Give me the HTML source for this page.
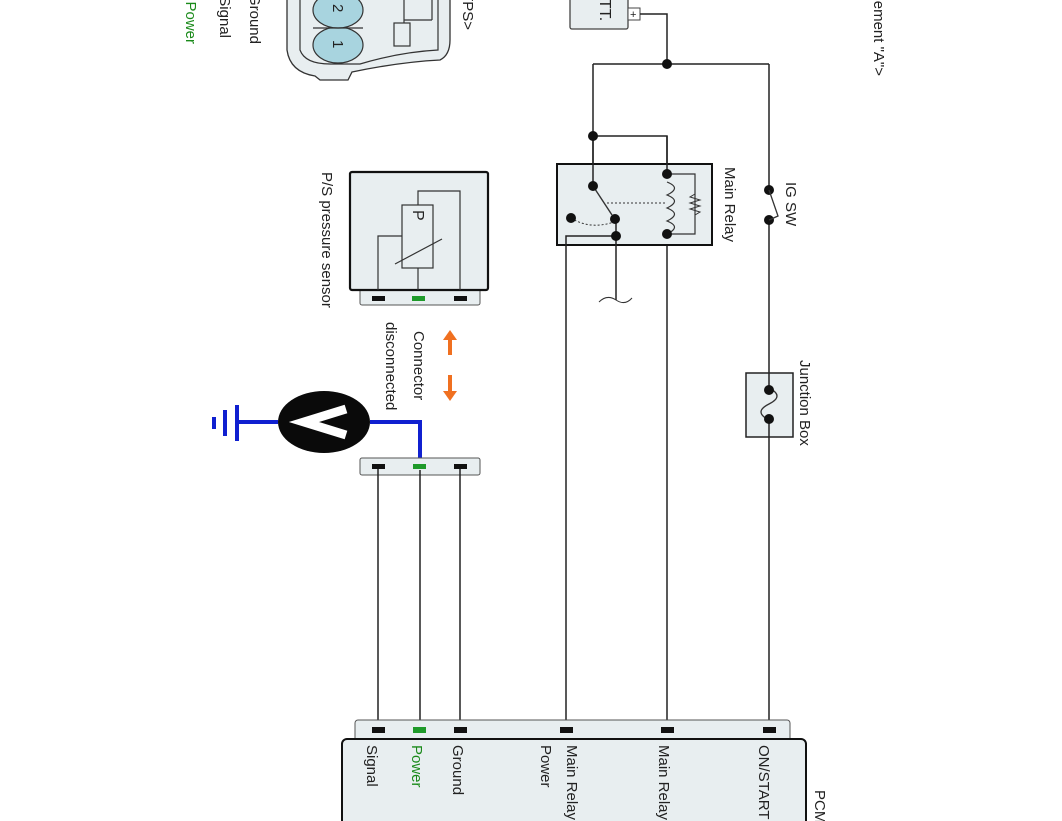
<!DOCTYPE html>
<html><head><meta charset="utf-8"><style>
html,body{margin:0;padding:0;background:#fff;}
svg{display:block;}
text{font-family:"Liberation Sans",sans-serif;fill:#222;}
</style></head><body>
<svg width="1062" height="821" viewBox="0 0 1062 821" xmlns="http://www.w3.org/2000/svg">
<!-- TPS connector top-left -->
<path d="M287,-5 L287,50 Q290,72 315,76 L320,80 L348,80 L352,72 Q400,62 440,60 Q450,55 450,40 L450,-5" fill="#e8eef0" stroke="#333" stroke-width="1.3"/>
<path d="M300,-5 L300,50 Q305,64 330,64 L360,64 Q400,52 438,50 L438,-5" fill="none" stroke="#333" stroke-width="1.2"/>
<rect x="394" y="23" width="16" height="23" fill="none" stroke="#333" stroke-width="1.2"/>
<path d="M404,23 L404,-5 M432,20 L432,-5 M404,20 L432,20" fill="none" stroke="#333" stroke-width="1.2"/>
<ellipse cx="338" cy="45" rx="25" ry="18" fill="#a8d4df" stroke="#333" stroke-width="1.2"/>
<ellipse cx="338" cy="10" rx="25" ry="18" fill="#a8d4df" stroke="#333" stroke-width="1.2"/>
<line x1="313" y1="28" x2="363" y2="28" stroke="#333" stroke-width="1.2"/>
<text transform="translate(333,40) rotate(90)" font-size="15">1</text>
<text transform="translate(333,4) rotate(90)" font-size="15">2</text>
<text transform="translate(250,44) rotate(90)" font-size="15" text-anchor="end">Ground</text>
<text transform="translate(220,38) rotate(90)" font-size="15" text-anchor="end">Signal</text>
<text transform="translate(186,44) rotate(90)" font-size="15" text-anchor="end" style="fill:#1a8a1a">Power</text>
<text transform="translate(463,30) rotate(90)" font-size="15" text-anchor="end">&lt;TPS&gt;</text>
<text transform="translate(874,76) rotate(90)" font-size="15" text-anchor="end">Arrangement "A"&gt;</text>

<!-- P/S pressure sensor -->
<rect x="360" y="288" width="120" height="17" rx="2" fill="#e8eef0" stroke="#555" stroke-width="1"/>
<rect x="350" y="172" width="138" height="118" rx="2" fill="#e8eef0" stroke="#111" stroke-width="2.2"/>
<rect x="402" y="205" width="31" height="63" fill="#e8eef0" stroke="#333" stroke-width="1.2"/>
<path d="M378,290 L378,236 L402,236 M418,268 L418,290 M460,290 L460,191 L418,191 L418,205" fill="none" stroke="#333" stroke-width="1.2"/>
<line x1="395" y1="264" x2="442" y2="239" stroke="#333" stroke-width="1.2"/>
<text transform="translate(413,210) rotate(90)" font-size="16">P</text>
<rect x="372" y="296" width="13" height="5" fill="#111"/>
<rect x="412" y="296" width="13" height="5" fill="#1f9a2a"/>
<rect x="454" y="296" width="13" height="5" fill="#111"/>
<text transform="translate(322,172) rotate(90)" font-size="15">P/S pressure sensor</text>

<!-- orange arrows -->
<path d="M450,355 L450,338" stroke="#f07020" stroke-width="4"/>
<path d="M443,340 L450,330 L457,340 Z" fill="#f07020"/>
<path d="M450,375 L450,393" stroke="#f07020" stroke-width="4"/>
<path d="M443,391 L450,401 L457,391 Z" fill="#f07020"/>
<text transform="translate(414,331) rotate(90)" font-size="15">Connector</text>
<text transform="translate(386,322) rotate(90)" font-size="15">disconnected</text>

<!-- voltmeter -->
<path d="M370,422 L420,422 L420,466" fill="none" stroke="#1020d0" stroke-width="4"/>
<path d="M278,422 L237,422" stroke="#1020d0" stroke-width="4"/>
<path d="M237,405 L237,441 M225,410 L225,436 M214,417 L214,429" stroke="#1020d0" stroke-width="4"/>
<ellipse cx="324" cy="422" rx="46" ry="31" fill="#0a0a0a"/>
<path d="M346,409 L304,422 L346,435" fill="none" stroke="#fff" stroke-width="9"/>

<!-- middle connector -->
<rect x="360" y="458" width="120" height="17" rx="2" fill="#e8eef0" stroke="#555" stroke-width="1"/>
<path d="M378,466 L378,730 M420,470 L420,730 M460,466 L460,730" stroke="#222" stroke-width="1.5"/>
<rect x="372" y="464" width="13" height="5" fill="#111"/>
<rect x="413" y="464" width="13" height="5" fill="#1f9a2a"/>
<rect x="454" y="464" width="13" height="5" fill="#111"/>

<!-- BATT -->
<rect x="570" y="-10" width="58" height="39" rx="2" fill="#e8eef0" stroke="#444" stroke-width="1.3"/>
<text transform="translate(600,0) rotate(90)" font-size="16" text-anchor="middle">BATT.</text>
<rect x="628" y="8" width="12" height="12" fill="#fff" stroke="#444" stroke-width="1"/>
<text x="630" y="18" font-size="11">+</text>
<path d="M640,14 L667,14 L667,64 M593,64 L769,64 M593,64 L593,186 M593,136 L667,136 L667,174 M769,64 L769,188 M769,220 L769,730 M667,234 L667,730" fill="none" stroke="#222" stroke-width="1.5"/>

<!-- relay -->
<rect x="557" y="164" width="155" height="81" fill="#e8eef0" stroke="#111" stroke-width="2"/>
<path d="M593,136 L593,186 M667,136 L667,174" stroke="#222" stroke-width="1.5"/>
<path d="M667,174 L695,174 L695,234 L667,234" fill="none" stroke="#333" stroke-width="1.2"/>
<path d="M667,182 Q682,188 667,195 Q682,201 667,208 Q682,214 667,221 Q682,227 667,234" fill="none" stroke="#333" stroke-width="1.2"/>
<path d="M695,194 L690,197 L700,200 L690,203 L700,206 L690,209 L700,212 L695,215" fill="none" stroke="#333" stroke-width="1"/>
<path d="M593,186 L612,215" stroke="#333" stroke-width="1.4"/>
<line x1="607" y1="203" x2="667" y2="203" stroke="#333" stroke-width="1" stroke-dasharray="2,2"/>
<path d="M571,218 Q590,230 614,222" fill="none" stroke="#333" stroke-width="1" stroke-dasharray="2,2"/>
<path d="M616,220 L616,300 M616,236 L566,236 L566,730" fill="none" stroke="#222" stroke-width="1.5"/>
<path d="M599,302 Q607,294 616,300 Q625,306 632,298" fill="none" stroke="#333" stroke-width="1"/>
<g fill="#111">
<circle cx="667" cy="64" r="5"/><circle cx="593" cy="136" r="5"/>
<circle cx="593" cy="186" r="5"/><circle cx="667" cy="174" r="5"/><circle cx="667" cy="234" r="5"/>
<circle cx="615" cy="219" r="5"/><circle cx="616" cy="236" r="5"/><circle cx="571" cy="218" r="5"/>
<circle cx="769" cy="190" r="5"/><circle cx="769" cy="220" r="5"/>
</g>
<path d="M769,190 L778,216 L769,220" fill="none" stroke="#333" stroke-width="1.3"/>
<text transform="translate(725,167) rotate(90)" font-size="15">Main Relay</text>
<text transform="translate(786,182) rotate(90)" font-size="15">IG SW</text>

<!-- junction box -->
<rect x="746" y="373" width="47" height="64" fill="#e8eef0" stroke="#222" stroke-width="1.5"/>
<path d="M769,373 L769,388 M769,420 L769,437" stroke="#222" stroke-width="1.5"/>
<path d="M769,388 Q785,396 769,404 Q753,412 769,420" fill="none" stroke="#333" stroke-width="1.3"/>
<circle cx="769" cy="390" r="5" fill="#111"/><circle cx="769" cy="419" r="5" fill="#111"/>
<text transform="translate(800,360) rotate(90)" font-size="15">Junction Box</text>

<!-- PCM -->
<rect x="355" y="720" width="435" height="24" rx="3" fill="#e8eef0" stroke="#555" stroke-width="1"/>
<rect x="342" y="739" width="464" height="100" rx="5" fill="#e8eef0" stroke="#111" stroke-width="2"/>
<g fill="#111">
<rect x="372" y="727" width="13" height="6"/><rect x="454" y="727" width="13" height="6"/>
<rect x="560" y="727" width="13" height="6"/><rect x="661" y="727" width="13" height="6"/><rect x="763" y="727" width="13" height="6"/>
</g>
<rect x="413" y="727" width="13" height="6" fill="#1f9a2a"/>
<text transform="translate(367,745) rotate(90)" font-size="15">Signal</text>
<text transform="translate(412,745) rotate(90)" font-size="15" style="fill:#1a8a1a">Power</text>
<text transform="translate(453,745) rotate(90)" font-size="15">Ground</text>
<text transform="translate(567,745) rotate(90)" font-size="15">Main Relay</text>
<text transform="translate(541,745) rotate(90)" font-size="15">Power</text>
<text transform="translate(659,745) rotate(90)" font-size="15">Main Relay</text>
<text transform="translate(759,745) rotate(90)" font-size="15">ON/START</text>
<text transform="translate(815,790) rotate(90)" font-size="15">PCM</text>
</svg>
</body></html>
